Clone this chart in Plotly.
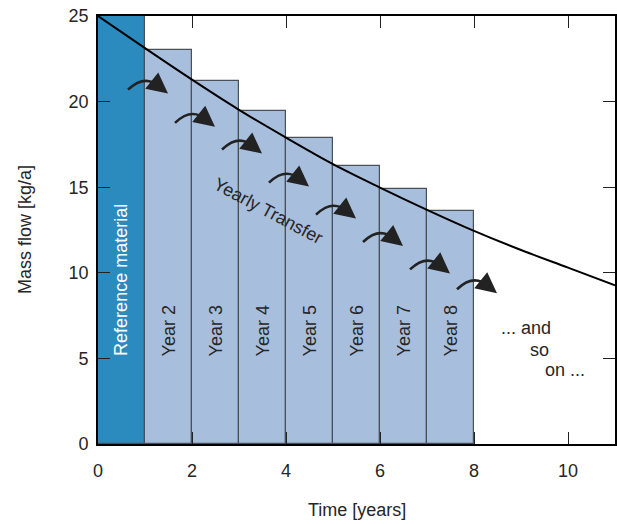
import plotly.graph_objects as go

# ---- data ----
bar_labels = ["Reference material", "Year 2", "Year 3", "Year 4", "Year 5", "Year 6", "Year 7", "Year 8"]
bar_values = [25.0, 23.0, 21.2, 19.45, 17.85, 16.25, 14.92, 13.61]
curve_x = [0, 1, 2, 3, 4, 5, 6, 7, 8, 9, 10, 11]
curve_y = [25.0, 23.12, 21.28, 19.52, 17.9, 16.35, 14.98, 13.68, 12.45, 11.33, 10.3, 9.27]
x_ticks = [0, 2, 4, 6, 8, 10]
y_ticks = [0, 5, 10, 15, 20, 25]
x_title = "Time [years]"
y_title = "Mass flow [kg/a]"
transfer_label = "Yearly Transfer"
continuation = ["... and", "so", "on ..."]
# arrow levels (annotation anchor heights, one per yearly transfer)
arrow_levels = [20.7, 18.76, 17.2, 15.27, 13.4, 11.8, 10.2, 9.04]

FONT = "Liberation Sans, Arial, sans-serif"
TXT = "#262626"
FS = 18

bar_x = [i + 0.5 for i in range(len(bar_values))]
bar_colors = ["#2b8bbf"] + ["#a8bedd"] * (len(bar_values) - 1)

fig = go.Figure()
fig.add_trace(go.Bar(
    x=bar_x, y=bar_values, width=1.0,
    marker=dict(color=bar_colors, line=dict(color="#4a5058", width=1.2)),
    hoverinfo="skip", showlegend=False,
))
fig.add_trace(go.Scatter(
    x=curve_x, y=curve_y, mode="lines",
    line=dict(color="black", width=2, shape="spline", smoothing=1.0),
    hoverinfo="skip", showlegend=False,
))

annotations = []
shapes = []
# bar labels
for i, lab in enumerate(bar_labels):
    annotations.append(dict(
        x=bar_x[i], y=5, xref="x", yref="y", text=lab, showarrow=False,
        textangle=-90, yanchor="bottom", xanchor="center",
        font=dict(family=FONT, size=FS, color="white" if i == 0 else TXT),
    ))

# curved transfer arrows
px_x = 1 / 47.0   # data units per pixel (x)
px_y = 1 / 17.1   # data units per pixel (y)
for i, lvl in enumerate(arrow_levels):
    x0 = bar_x[i] + 6.5 * px_x
    y0 = lvl
    x1 = x0 + 31 * px_x
    y1 = y0 + 3 * px_y
    cx = x0 + 17 * px_x
    cy = y0 + 16 * px_y
    shapes.append(dict(
        type="path", xref="x", yref="y",
        path=f"M {x0},{y0} Q {cx},{cy} {x1},{y1}",
        line=dict(color="#222222", width=2.6),
    ))
    tipx = x0 + 40 * px_x
    tipy = y0 - 4 * px_y
    annotations.append(dict(
        x=tipx, y=tipy, xref="x", yref="y", ax=-10, ay=-8,
        showarrow=True, arrowhead=2, arrowsize=1.6, arrowwidth=2.6,
        arrowcolor="#222222", standoff=0, text="",
    ))

annotations.append(dict(
    x=3.62, y=13.6, xref="x", yref="y", text=transfer_label, showarrow=False,
    textangle=28, font=dict(family=FONT, size=FS, color=TXT),
))
cont_pos = [(9.11, 6.75), (9.39, 5.47), (9.94, 4.3)]
for (cx_, cy_), t in zip(cont_pos, continuation):
    annotations.append(dict(
        x=cx_, y=cy_, xref="x", yref="y", text=t, showarrow=False,
        font=dict(family=FONT, size=FS, color=TXT),
    ))

# axis titles
annotations.append(dict(
    x=0.5, y=-0.154, xref="paper", yref="paper", text=x_title, showarrow=False,
    xanchor="center", yanchor="middle", font=dict(family=FONT, size=FS, color=TXT),
))
annotations.append(dict(
    x=-0.141, y=0.5, xref="paper", yref="paper", text=y_title, showarrow=False,
    textangle=-90, xanchor="center", yanchor="middle",
    font=dict(family=FONT, size=FS, color=TXT),
))

fig.update_layout(
    width=617, height=524,
    margin=dict(l=98, r=2, t=16, b=80),
    paper_bgcolor="white", plot_bgcolor="white",
    font=dict(family=FONT, size=FS, color=TXT),
    bargap=0,
    annotations=annotations, shapes=shapes,
    xaxis=dict(
        range=[0, 11], tickvals=x_ticks, ticks="inside", ticklen=12,
        tickcolor="#222", tickwidth=1.2,
        showline=True, linecolor="black", linewidth=1.6, mirror="ticks",
        showgrid=False, zeroline=False, automargin=False,
        tickfont=dict(size=FS), ticklabelstandoff=10, ticklabeloverflow="allow",
    ),
    yaxis=dict(
        range=[0, 25], tickvals=y_ticks, ticks="inside", ticklen=12,
        tickcolor="#222", tickwidth=1.2,
        showline=True, linecolor="black", linewidth=1.6, mirror="ticks",
        showgrid=False, zeroline=False, automargin=False,
        tickfont=dict(size=FS), ticklabelstandoff=4, ticklabeloverflow="allow",
    ),
)

fig.write_html(
    "out.html",
    config={"displayModeBar": False},
    post_script="document.body.style.margin='0px';"
                "document.documentElement.style.overflow='hidden';",
)
